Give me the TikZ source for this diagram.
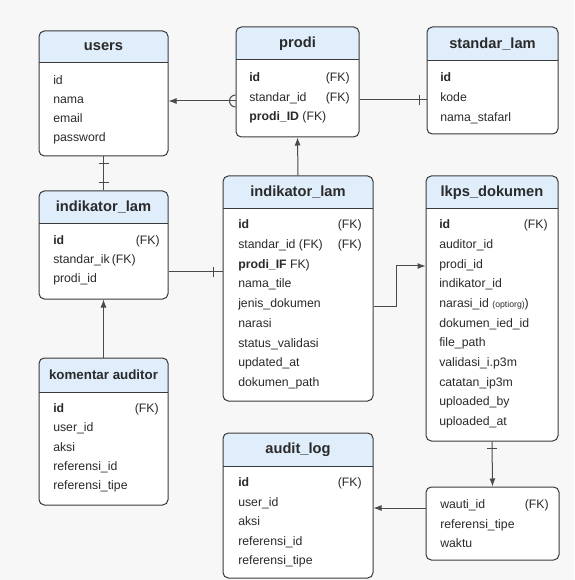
\documentclass[tikz,border=0pt]{standalone}
\usepackage{fontspec}
\setmainfont{Liberation Sans}
\usetikzlibrary{arrows.meta}
\definecolor{bgcol}{HTML}{F7F7F7}
\definecolor{hdrcol}{HTML}{E0EDFB}
\definecolor{linecol}{HTML}{3A3A3A}
\definecolor{conncol}{HTML}{4A4A4A}
\definecolor{txtcol}{HTML}{2A2A2A}
\tikzset{
  tbl/.style={draw=linecol, line width=0.75pt, rounded corners=4pt, fill=white, inner sep=0pt},
  tbltitle/.style={font=\fontsize{11}{13}\selectfont\bfseries, text=txtcol, inner sep=0pt},
  tblrow/.style={anchor=west, font=\fontsize{9.2}{11}\selectfont, text=txtcol, inner sep=0pt,
    text height=7.5pt, text depth=2pt},
  fk/.style={tblrow, anchor=east},
  conn/.style={draw=conncol, line width=0.75pt},
  arr/.style={-{Latex[length=6pt,width=4.5pt]}},
}
% table box: name, x1, y1, x2, y2, header bottom, title (pixel units)
\newcommand\ertable[7]{%
  \node[tbl, minimum width={(#4-#2)*0.75pt}, minimum height={(#5-#3)*0.75pt},
    path picture={
      \fill[hdrcol, sharp corners] (path picture bounding box.north west)
        rectangle ([yshift={-(#6-#3)*0.75pt}]path picture bounding box.north east);
      \draw[linecol, line width=0.75pt, sharp corners]
        ([yshift={-(#6-#3)*0.75pt}]path picture bounding box.north west)
        -- ([yshift={-(#6-#3)*0.75pt}]path picture bounding box.north east);}]
    (#1) at ({(#2+#4)/2},{(#3+#5)/2}) {};
  \node[tbltitle] (#1-title) at ({(#2+#4)/2},{(#3+#6)/2}) {#7};}
% rows: name, x, first y, pitch, list
\newcommand\errows[5]{%
  \foreach \fld [count=\i] in {#5}
    \node[tblrow] (#1-\i) at (#2,{#3+(\i-1)*#4}) {\fld};}
\begin{document}
\begin{tikzpicture}[x=0.75pt,y=-0.75pt]
  \fill[bgcol] (0,0) rectangle (574,580);
  \useasboundingbox (0,0) rectangle (574,580);

  % tables
  \ertable{users}{39}{31}{168}{156}{63}{users}
  \errows{users}{53}{81}{19}{id, nama, email, password}

  \ertable{prodi}{236}{27}{359}{137}{60}{prodi}
  \errows{prodi}{249}{78}{19.5}{\textbf{id}, standar\_id, \textbf{prodi\_ID} (FK)}
  \node[fk] (prodi-fk1) at (350,78) {(FK)};
  \node[fk] (prodi-fk2) at (350,97.5) {(FK)};

  \ertable{stdlam}{427}{27}{558}{134}{61}{standar\_lam}
  \errows{stdlam}{440}{78}{20}{\textbf{id}, kode, nama\_stafarl}

  \ertable{indleft}{39}{191}{168}{299}{224}{indikator\_lam}
  \errows{indleft}{53}{241}{19}{\textbf{id}, standar\_ik\,(FK), prodi\_id}
  \node[fk] (indleft-fk1) at (160,241) {(FK)};

  \ertable{komentar}{39}{358}{168}{505}{392}{\fontsize{10}{12}\selectfont komentar auditor}
  \errows{komentar}{53}{409}{19.25}{\textbf{id}, user\_id, aksi, referensi\_id, referensi\_tipe}
  \node[fk] (komentar-fk1) at (159,409) {(FK)};

  \ertable{indlam}{223}{176}{373}{401}{209}{indikator\_lam}
  \errows{indlam}{238}{225}{19.75}{\textbf{id}, standar\_id (FK), \textbf{prodi\_IF} FK), nama\_tile,
    jenis\_dokumen, narasi, status\_validasi, updated\_at, dokumen\_path}
  \node[fk] (indlam-fk1) at (362,225) {(FK)};
  \node[fk] (indlam-fk2) at (362,244.75) {(FK)};

  \ertable{lkps}{426}{176}{558}{441}{209}{lkps\_dokumen}
  \errows{lkps}{439}{225}{19.7}{\textbf{id}, auditor\_id, prodi\_id, indikator\_id,
    narasi\_id {\fontsize{6.5}{7}\selectfont(optiorg)}), dokumen\_ied\_id, file\_path,
    validasi\_i.p3m, catatan\_ip3m, uploaded\_by, uploaded\_at}
  \node[fk] (lkps-fk1) at (548,225) {(FK)};

  \ertable{audit}{223}{433}{373}{578}{466}{audit\_log}
  \errows{audit}{238}{483}{19.5}{\textbf{id}, user\_id, aksi, referensi\_id, referensi\_tipe}
  \node[fk] (audit-fk1) at (362,483) {(FK)};

  \node[tbl, minimum width={133*0.75pt}, minimum height={73*0.75pt}] (wbox) at (492.5,523.5) {};
  \errows{wbox}{440}{505}{19.5}{wauti\_id, referensi\_tipe, waktu}
  \node[fk] (wbox-fk1) at (549,505) {(FK)};

  % connectors
  \draw[conn,arr] (prodi.west |- 0,101) -- (users.east |- 0,101);
  \draw[conn] ([yshift=4.5pt]prodi.west |- 0,101) arc[start angle=90,end angle=270,radius=4.5pt];
  \draw[conn] (prodi.east |- 0,100) -- (stdlam.west |- 0,100);
  \draw[conn] (419,95) -- (419,105);
  \draw[conn] (users.south) -- (indleft.north);
  \foreach \ty in {164,183}
    \draw[conn] (98.5,\ty) -- (108.5,\ty);
  \draw[conn,arr] (komentar.north) -- (indleft.south);
  \draw[conn,arr] (indlam.north) -- (prodi.south);
  \draw[conn] (indleft.east |- 0,272) -- (indlam.west |- 0,272);
  \draw[conn] (213,267) -- (213,277);
  \draw[conn,arr] (indlam.east |- 0,306) -| (396,266) -- (lkps.west |- 0,266);
  \draw[conn,arr] (lkps.south) -- (wbox.north);
  \draw[conn] (487,448) -- (497,448);
  \draw[conn,arr] (wbox.west |- 0,508) -- (audit.east |- 0,508);
\end{tikzpicture}
\end{document}
